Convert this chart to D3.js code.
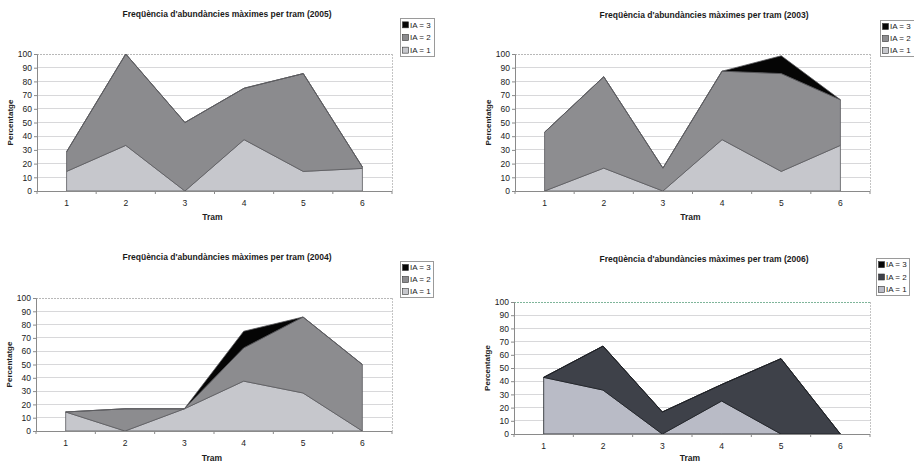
<!DOCTYPE html>
<html>
<head>
<meta charset="utf-8">
<script src="https://cdn.jsdelivr.net/npm/d3@7"></script>
<style>
  html, body { margin: 0; padding: 0; background: #fff; }
  svg { display: block; font-family: "Liberation Sans", Arial, sans-serif; }
</style>
</head>
<body>
<svg id="chart" width="914" height="464"></svg>
<script>
// Trams (sections) along the x axis
const trams = ["1", "2", "3", "4", "5", "6"];
const seriesNames = ["IA = 1", "IA = 2", "IA = 3"];
const yTickValues = [0, 10, 20, 30, 40, 50, 60, 70, 80, 90, 100];

// Percentage of maximum abundance per tram, by year
const ia1_2005 = [14.3, 33.3, 0, 37.5, 14.3, 16.5];
const ia2_2005 = [14.3, 66.7, 50, 37.5, 71.4, 1];
const ia3_2005 = [0, 0, 0, 0, 0, 0];

const ia1_2003 = [0, 16.7, 0, 37.5, 14.3, 33.3];
const ia2_2003 = [42.9, 66.7, 16.7, 50, 71.4, 33.3];
const ia3_2003 = [0, 0, 0, 0, 13, 0];

const ia1_2004 = [14.3, 0, 16.7, 37.5, 28.6, 0];
const ia2_2004 = [0, 16.7, 0, 25, 57.1, 50];
const ia3_2004 = [0, 0, 0, 12.5, 0, 0];

const ia1_2006 = [42.9, 33.3, 0, 25, 0, 0];
const ia2_2006 = [0, 33.3, 16.7, 12.5, 57.1, 0];
const ia3_2006 = [0, 0, 0, 0, 0, 0];

const svg = d3.select("#chart");

const panels = [
  { year: "2005", ia: [ia1_2005, ia2_2005, ia3_2005],
    plot: { x0: 37, x1: 392, y0: 54, y1: 191 },
    titleX: 227, titleY: 14, tramDy: 26,
    legend: { x: 400, y: 18, w: 34, h: 38 },
    fills: ["#c6c7cc", "#8b8b8e", "#050505"], edge: "#5a5a5e", topGrid: "#b8b8b8" },
  { year: "2003", ia: [ia1_2003, ia2_2003, ia3_2003],
    plot: { x0: 515, x1: 870, y0: 54, y1: 191 },
    titleX: 704, titleY: 15, tramDy: 26,
    legend: { x: 880, y: 20, w: 36, h: 36 },
    fills: ["#c6c7cc", "#8d8d90", "#050505"], edge: "#5a5a5e", topGrid: "#b8b8b8" },
  { year: "2004", ia: [ia1_2004, ia2_2004, ia3_2004],
    plot: { x0: 36, x1: 392, y0: 298, y1: 431 },
    titleX: 227, titleY: 257, tramDy: 27,
    legend: { x: 400, y: 261, w: 33, h: 36 },
    fills: ["#c6c7cc", "#8c8c8f", "#050505"], edge: "#5a5a5e", topGrid: "#b8b8b8" },
  { year: "2006", ia: [ia1_2006, ia2_2006, ia3_2006],
    plot: { x0: 514, x1: 870, y0: 302, y1: 434 },
    titleX: 704, titleY: 259, tramDy: 24,
    legend: { x: 876, y: 258, w: 33, h: 37 },
    fills: ["#b9bbc6", "#3e4149", "#050505"], edge: "#1d1f24", topGrid: "#7fb59a" }
];

panels.forEach(p => {
  const g = svg.append("g");
  const { x0, x1, y0, y1 } = p.plot;

  const x = d3.scalePoint().domain(trams).range([x0, x1]).padding(0.5);
  const band = d3.scaleBand().domain(trams).range([x0, x1]);
  const y = d3.scaleLinear().domain([0, 100]).range([y1, y0]);

  // Gridlines
  g.append("g")
    .selectAll("line")
    .data(yTickValues.filter(v => v > 0 && v < 100))
    .join("line")
    .attr("x1", x0).attr("x2", x1)
    .attr("y1", d => y(d)).attr("y2", d => y(d))
    .attr("stroke", "#d8d8da").attr("stroke-width", 1)
    .attr("shape-rendering", "crispEdges");

  // Dotted frame on top and right
  g.append("line")
    .attr("x1", x0).attr("x2", x1).attr("y1", y(100)).attr("y2", y(100))
    .attr("stroke", p.topGrid).attr("stroke-width", 1)
    .attr("stroke-dasharray", "2,1").attr("shape-rendering", "crispEdges");
  g.append("line")
    .attr("x1", x1).attr("x2", x1).attr("y1", y0).attr("y2", y1)
    .attr("stroke", "#c4c4c4").attr("stroke-width", 1)
    .attr("stroke-dasharray", "2,1").attr("shape-rendering", "crispEdges");

  // Stacked areas
  const rows = trams.map((t, i) => ({
    tram: t,
    "IA = 1": p.ia[0][i],
    "IA = 2": p.ia[1][i],
    "IA = 3": p.ia[2][i]
  }));
  const stacked = d3.stack().keys(seriesNames)(rows);
  const area = d3.area()
    .x(d => x(d.data.tram))
    .y0(d => y(d[0]))
    .y1(d => y(d[1]));

  g.append("g")
    .selectAll("path")
    .data(stacked)
    .join("path")
    .attr("d", area)
    .attr("fill", (d, i) => p.fills[i])
    .attr("stroke", p.edge)
    .attr("stroke-width", 0.8)
    .attr("stroke-linejoin", "round");

  // Y axis
  const yAxis = d3.axisLeft(y).tickValues(yTickValues).tickSize(3).tickPadding(2);
  const ya = g.append("g").attr("transform", `translate(${x0},0)`).call(yAxis);
  ya.select(".domain").attr("stroke", "#8a8a8a");
  ya.selectAll(".tick line").attr("stroke", "#8a8a8a");
  ya.selectAll("text").attr("font-size", 8.5).attr("fill", "#222");

  // X axis: category labels at points, tick marks between categories
  g.append("line")
    .attr("x1", x0).attr("x2", x1).attr("y1", y1 + 0.5).attr("y2", y1 + 0.5)
    .attr("stroke", "#8a8a8a");
  g.append("g")
    .selectAll("line")
    .data(trams.concat(["end"]))
    .join("line")
    .attr("x1", (d, i) => (i < trams.length ? band(d) : x1))
    .attr("x2", (d, i) => (i < trams.length ? band(d) : x1))
    .attr("y1", y1).attr("y2", y1 + 3)
    .attr("stroke", "#8a8a8a");
  g.append("g")
    .selectAll("text")
    .data(trams)
    .join("text")
    .attr("x", d => x(d))
    .attr("y", y1 + 12)
    .attr("dy", "0.35em")
    .attr("text-anchor", "middle")
    .attr("font-size", 8.5)
    .attr("fill", "#222")
    .text(d => d);

  // Axis titles
  g.append("text")
    .attr("x", (x0 + x1) / 2 - 2)
    .attr("y", y1 + p.tramDy)
    .attr("dy", "0.35em")
    .attr("text-anchor", "middle")
    .attr("font-size", 8.5).attr("font-weight", "bold").attr("fill", "#222")
    .text("Tram");
  g.append("text")
    .attr("transform", `translate(${x0 - 27},${(y0 + y1) / 2}) rotate(-90)`)
    .attr("dy", "0.35em")
    .attr("text-anchor", "middle")
    .attr("font-size", 8).attr("font-weight", "bold").attr("fill", "#222")
    .text("Percentatge");

  // Title
  g.append("text")
    .attr("x", p.titleX).attr("y", p.titleY)
    .attr("dy", "0.35em")
    .attr("text-anchor", "middle")
    .attr("font-size", 8.5).attr("font-weight", "bold").attr("fill", "#1a1a1a")
    .text(`Freqüència d'abundàncies màximes per tram (${p.year})`);

  // Legend (highest series first)
  const lg = g.append("g").attr("transform", `translate(${p.legend.x},${p.legend.y})`);
  lg.append("rect")
    .attr("x", 0.5).attr("y", 0.5)
    .attr("width", p.legend.w).attr("height", p.legend.h)
    .attr("fill", "#fff").attr("stroke", "#9a9a9a").attr("stroke-width", 1);
  const order = [2, 1, 0];
  const step = p.legend.h / 3;
  order.forEach((k, j) => {
    const cy = step * (j + 0.5) + 0.5;
    lg.append("rect")
      .attr("x", 2.5).attr("y", cy - 3)
      .attr("width", 6).attr("height", 6)
      .attr("fill", p.fills[k]).attr("stroke", "#333").attr("stroke-width", 0.6);
    lg.append("text")
      .attr("x", 10).attr("y", cy)
      .attr("dy", "0.35em")
      .attr("font-size", 8).attr("fill", "#222")
      .text(seriesNames[k]);
  });
});
</script>
</body>
</html>
